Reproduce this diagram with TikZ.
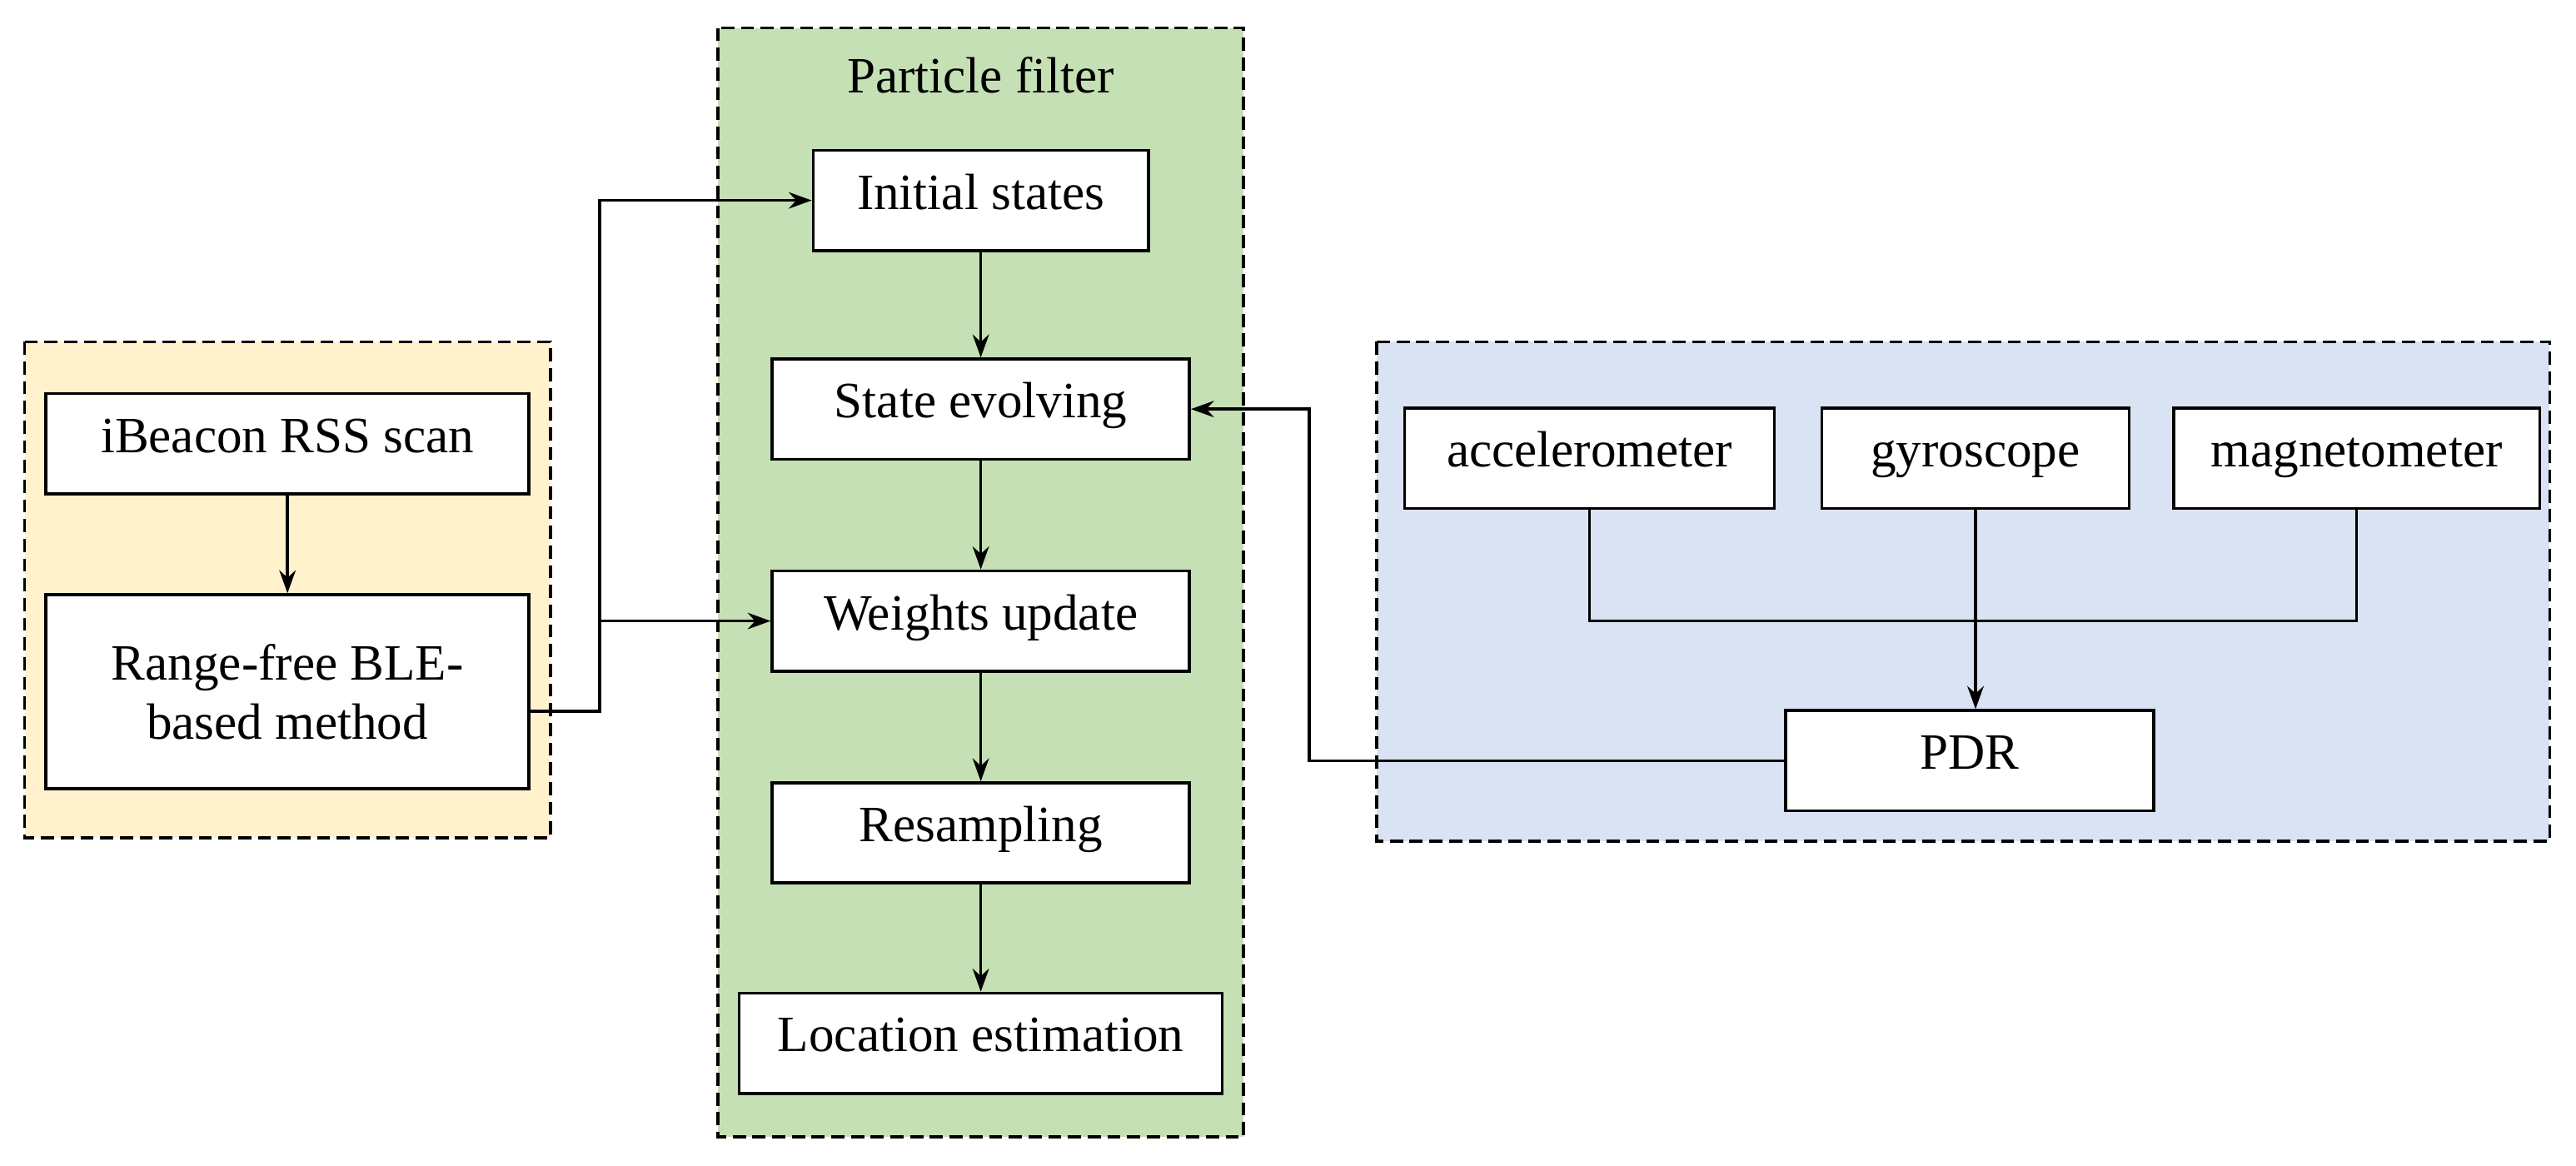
\documentclass[tikz,border=0pt]{standalone}
\usepackage{fontspec}
\setmainfont{Liberation Serif}
\usetikzlibrary{positioning,arrows.meta}
\definecolor{pfgreen}{RGB}{197,224,180}
\definecolor{bleyellow}{RGB}{255,242,204}
\definecolor{imublue}{RGB}{218,227,243}
\tikzset{every picture/.style={line width=0.9pt}}
\tikzset{
  blk/.style={draw,fill=white,minimum height=30.5pt,inner sep=2pt,align=center,font=\fontsize{15.5}{18}\selectfont},
  one/.style={text height=1.6ex,text depth=0.45ex},
  grp/.style={draw,dashed,dash pattern=on 4pt off 2pt},
  arr/.style={-{Stealth[length=7pt,width=5pt]}}
}
\begin{document}
\begin{tikzpicture}[x=0.5pt,y=0.5pt,yscale=-1]
	\useasboundingbox (0,0) rectangle (1568,709.7);
	% group boxes
	\draw [grp,fill=bleyellow] (15,208) rectangle (335,510);
	\draw [grp,fill=imublue] (838,208) rectangle (1552,512);
	\draw [grp,fill=pfgreen] (437,17) rectangle (757,692);
	\node [font=\fontsize{15.5}{18}\selectfont] (pf) at (597,46) {Particle filter};
	
	% BLE side
	\node [blk,one,minimum width=147pt] (scan) at (175,270) {iBeacon RSS scan};
	\node [blk,minimum width=147pt,minimum height=59pt] (ble) at (175,421) {Range-free BLE-\\based method};
	
	% particle filter
	\node [blk,one,minimum width=102pt] (init) at (597,122) {Initial states};
	\node [blk,one,minimum width=127pt] (evolve) at (597,249) {State evolving};
	\node [blk,one,minimum width=127pt] (weights) at (597,378) {Weights update};
	\node [blk,one,minimum width=127pt] (resamp) at (597,507) {Resampling};
	\node [blk,one,minimum width=147pt] (loc) at (597,635) {Location estimation};
	
	% sensors
	\node [blk,one,minimum width=112.5pt] (acc) at (967.5,279) {accelerometer};
	\node [blk,one,minimum width=93.5pt] (gyro) at (1202.5,279) {gyroscope};
	\node [blk,one,minimum width=111.5pt] (mag) at (1434.5,279) {magnetometer};
	\node [blk,one,minimum width=112pt] (pdr) at (1199,463) {PDR};
	
	\coordinate (j1) at (365,378);
	\coordinate (j2) at (1202,378);
	
	\draw [arr] (scan) -- (ble);
	\draw [arr] (init) -- (evolve);
	\draw [arr] (evolve) -- (weights);
	\draw [arr] (weights) -- (resamp);
	\draw [arr] (resamp) -- (loc);
	\draw [arr] (ble.east |- 0,433) -| (j1) |- (init);
	\draw [arr] (j1) -- (weights);
	\draw (acc.south) |- (j2) -| (mag.south);
	\draw [arr] (gyro.south) -- (gyro.south |- pdr.north);
	\draw [arr] (pdr.west) -| (797,249) -- (evolve.east);
\end{tikzpicture}
\end{document}
